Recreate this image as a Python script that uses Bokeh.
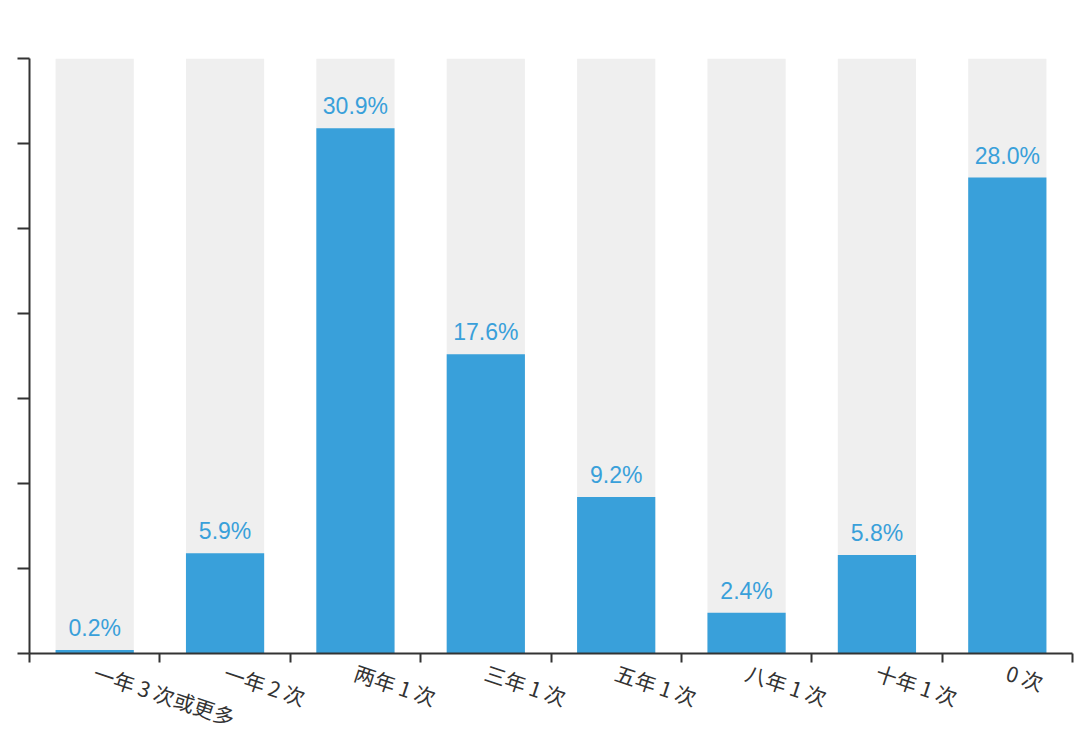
from bokeh.plotting import figure
from bokeh.models import FixedTicker, ColumnDataSource
from bokeh.core.properties import value
from bokeh.embed import file_html
from bokeh.resources import INLINE

categories = ["一年 3 次或更多", "一年 2 次", "两年 1 次", "三年 1 次",
              "五年 1 次", "八年 1 次", "十年 1 次", "0 次"]
values = [0.2, 5.9, 30.9, 17.6, 9.2, 2.4, 5.8, 28.0]
y_max = 35
y_ticks = [0, 5, 10, 15, 20, 25, 30, 35]

n = len(categories)
xs = [i + 0.5 for i in range(n)]
labels = [f"{v:.1f}%" for v in values]

src = ColumnDataSource(dict(x=xs, top=values, bg=[y_max] * n, label=labels))

p = figure(frame_width=1043, frame_height=595, x_range=(0, n), y_range=(0, y_max),
           output_backend="svg", toolbar_location=None,
           min_border_left=29, min_border_top=58, min_border_right=6, min_border_bottom=76)
p.outline_line_color = None
p.xgrid.visible = False
p.ygrid.visible = False
p.background_fill_color = "white"
p.border_fill_color = "white"

p.vbar(x="x", top="bg", width=0.6, source=src, fill_color="#efefef", line_color=None)
p.vbar(x="x", top="top", width=0.6, source=src, fill_color="#39a0da", line_color=None)
p.text(x="x", y="top", text="label", source=src, y_offset=-9,
       text_align="center", text_baseline="bottom", text_color="#39a0da",
       text_font=value("Liberation Sans"), text_font_size="23px")

# x axis
xa = p.xaxis[0]
xa.ticker = FixedTicker(ticks=xs, minor_ticks=list(range(n + 1)))
xa.major_label_overrides = {x: c for x, c in zip(xs, categories)}
xa.major_tick_line_color = None
xa.minor_tick_line_color = "#333333"
xa.minor_tick_line_width = 2
xa.minor_tick_in = 0
xa.minor_tick_out = 9
xa.axis_line_color = "#333333"
xa.axis_line_width = 2
xa.major_label_orientation = -0.32
xa.major_label_standoff = 9
xa.major_label_text_font = "Noto Sans CJK SC"
xa.major_label_text_font_size = "21px"
xa.major_label_text_color = "#333333"

# y axis (ticks only, no labels)
ya = p.yaxis[0]
ya.ticker = FixedTicker(ticks=y_ticks, minor_ticks=[])
ya.major_label_overrides = {t: "" for t in y_ticks}
ya.major_label_standoff = 0
ya.major_tick_in = 0
ya.major_tick_out = 12
ya.major_tick_line_width = 2
ya.major_tick_line_color = "#333333"
ya.axis_line_color = "#333333"
ya.axis_line_width = 2
ya.minor_tick_line_color = None

open("out.html", "w").write(file_html(p, INLINE))
